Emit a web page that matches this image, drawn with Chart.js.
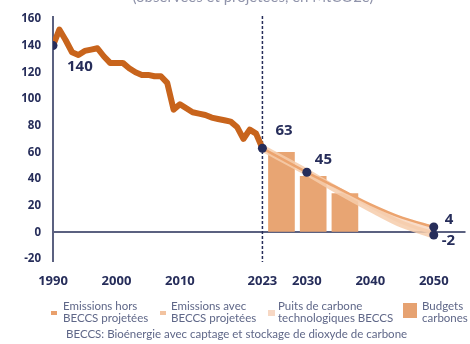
<!DOCTYPE html>
<html>
<head>
<meta charset="utf-8">
<script src="https://cdn.jsdelivr.net/npm/chart.js@4.4.0/dist/chart.umd.min.js"></script>
<style>
  html, body { margin: 0; padding: 0; background: #fff; }
</style>
</head>
<body>
<canvas id="chart" width="470" height="344"></canvas>
<script>
// ---------------------------------------------------------------------------- D A T A
const histYears  = [1990, 1991, 1992, 1993, 1994, 1995, 1996, 1997, 1998, 1999,
                    2000, 2001, 2002, 2003, 2004, 2005, 2006, 2007, 2008, 2009,
                    2010, 2011, 2012, 2013, 2014, 2015, 2016, 2017, 2018, 2019,
                    2020, 2021, 2022, 2023];
const histValues = [140, 152, 144, 135, 133, 136, 137, 138, 132, 127,
                    127, 127, 123, 120, 118, 118, 117, 117, 112, 92,
                    96, 93, 90, 89, 88, 86, 85, 84, 83, 79,
                    70, 77, 74, 63];

const projYears     = [2023, 2030, 2035, 2040, 2045, 2050];
const projHorsBeccs = [63, 45, 33, 21, 11, 4];
const projAvecBeccs = [63, 45, 31, 18, 6, -2];

const budgetYears  = [2026, 2031, 2036];
const budgetValues = [60, 42, 29];

const markerYears  = [1990, 2023, 2030, 2050, 2050];
const markerValues = [140, 63, 45, 4, -2];

const tickYears = [1990, 2000, 2010, 2023, 2030, 2040, 2050];

const legendItems = [
    ["Emissions hors", "BECCS projetées"],
    ["Emissions avec", "BECCS projetées"],
    ["Puits de carbone", "technologiques BECCS"],
    ["Budgets", "carbones"]
];
const titleText = "(observées et projetées, en MtCO2e)";
const noteText = "BECCS: Bioénergie avec captage et stockage de dioxyde de carbone";

// ---------------------------------------------------------------------------- S T Y L E
const NAVY = '#262d5a';
const AXIS = '#5b6180';
const toXY = (xs, ys) => xs.map((x, i) => ({x: x, y: ys[i]}));

// ---------------------------------------------------------------------------- P L U G I N
const decor = {
    id: 'decor',
    beforeDatasetsDraw(chart) {
        const {ctx, scales: {x, y}} = chart;
        ctx.save();
        // axe vertical
        ctx.strokeStyle = AXIS;
        ctx.lineWidth = 2;
        ctx.beginPath();
        ctx.moveTo(x.getPixelForValue(1990), y.top - 3);
        ctx.lineTo(x.getPixelForValue(1990), y.bottom + 3);
        ctx.stroke();
        // ligne pointillée 2023
        ctx.strokeStyle = NAVY;
        ctx.lineWidth = 1.5;
        ctx.setLineDash([3, 2]);
        ctx.beginPath();
        ctx.moveTo(x.getPixelForValue(2023), y.top - 3);
        ctx.lineTo(x.getPixelForValue(2023), y.bottom + 3);
        ctx.stroke();
        ctx.restore();
    },
    afterDraw(chart) {
        const {ctx, scales: {x, y}} = chart;
        ctx.save();
        // valeurs des points
        const offsets = [[14, 21], [13, -18], [8, -13], [11, -7], [8, 6]];
        ctx.fillStyle = NAVY;
        ctx.font = 'bold 15px "Open Sans"';
        ctx.textBaseline = 'middle';
        ctx.textAlign = 'left';
        markerValues.forEach((v, i) => {
            const px = x.getPixelForValue(markerYears[i]);
            const py = y.getPixelForValue(v);
            ctx.fillText(String(v), px + offsets[i][0], py + offsets[i][1]);
        });
        // titre (coupé en haut)
        ctx.fillStyle = '#9094ab';
        ctx.font = '15px Lato';
        ctx.textAlign = 'center';
        ctx.textBaseline = 'alphabetic';
        ctx.fillText(titleText, 253, 2);
        // légende
        const marks = [
            {x: 51, y: 311, w: 6, h: 4, c: '#e9a06c'},
            {x: 160, y: 311, w: 6, h: 4, c: '#f2c3a0'},
            {x: 268, y: 310, w: 7, h: 6, c: '#f7d8c4'},
            {x: 403, y: 303, w: 14, h: 15, c: '#e6a271'}
        ];
        const textX = [63, 171, 278, 422];
        ctx.textAlign = 'left';
        ctx.textBaseline = 'middle';
        ctx.font = '11.5px Lato';
        legendItems.forEach((lines, i) => {
            const m = marks[i];
            ctx.fillStyle = m.c;
            ctx.fillRect(m.x, m.y, m.w, m.h);
            ctx.fillStyle = '#5f6788';
            ctx.fillText(lines[0], textX[i], 306);
            ctx.fillText(lines[1], textX[i], 318);
        });
        ctx.fillText(noteText, 66, 334);
        ctx.restore();
    }
};

// ---------------------------------------------------------------------------- C H A R T
const ctx = document.getElementById('chart').getContext('2d');
const myChart = new Chart(ctx, {
    type: 'line',
    data: {
        datasets: [
            {
                type: 'scatter',
                data: toXY(markerYears, markerValues),
                pointRadius: 4.5,
                pointBackgroundColor: NAVY,
                pointBorderWidth: 0,
                order: 1
            },
            {
                data: toXY(histYears, histValues),
                borderColor: '#c8641c',
                borderWidth: 6,
                pointRadius: 0,
                tension: 0,
                borderJoinStyle: 'round',
                order: 2
            },
            {
                data: toXY(projYears, projHorsBeccs),
                borderColor: '#eca46f',
                borderWidth: 2.5,
                pointRadius: 0,
                cubicInterpolationMode: 'monotone',
                order: 3
            },
            {
                data: toXY(projYears, projAvecBeccs),
                borderColor: 'rgba(246, 204, 172, 0.85)',
                borderWidth: 7,
                pointRadius: 0,
                cubicInterpolationMode: 'monotone',
                fill: {target: 2},
                backgroundColor: 'rgba(248, 214, 190, 0.85)',
                order: 4
            },
            {
                type: 'bar',
                data: toXY(budgetYears, budgetValues),
                backgroundColor: '#e8a573',
                barThickness: 26,
                order: 5
            }
        ]
    },
    plugins: [decor],
    options: {
        responsive: false,
        animation: false,
        layout: {
            padding: {top: 15, right: 3, bottom: 55, left: 0}
        },
        plugins: {
            legend: {display: false},
            tooltip: {enabled: false}
        },
        scales: {
            x: {
                type: 'linear',
                min: 1990,
                max: 2055,
                offset: false,
                afterBuildTicks: (scale) => {
                    scale.ticks = tickYears.map(v => ({value: v}));
                },
                afterFit: (scale) => { scale.height = 30; },
                ticks: {
                    color: NAVY,
                    font: {family: '"Open Sans"', size: 13, weight: 'bold'},
                    padding: 6,
                    maxRotation: 0,
                    autoSkip: false,
                    callback: (v) => String(v)
                },
                grid: {display: false},
                border: {display: false}
            },
            y: {
                min: -20,
                max: 160,
                afterFit: (scale) => { scale.width = 53; },
                ticks: {
                    stepSize: 20,
                    color: NAVY,
                    font: {family: '"Open Sans"', size: 11.5, weight: 'bold'},
                    padding: 12
                },
                grid: {
                    drawTicks: false,
                    lineWidth: 2,
                    color: (c) => c.tick && c.tick.value === 0 ? AXIS : 'transparent'
                },
                border: {display: false}
            }
        }
    }
});
</script>
</body>
</html>
